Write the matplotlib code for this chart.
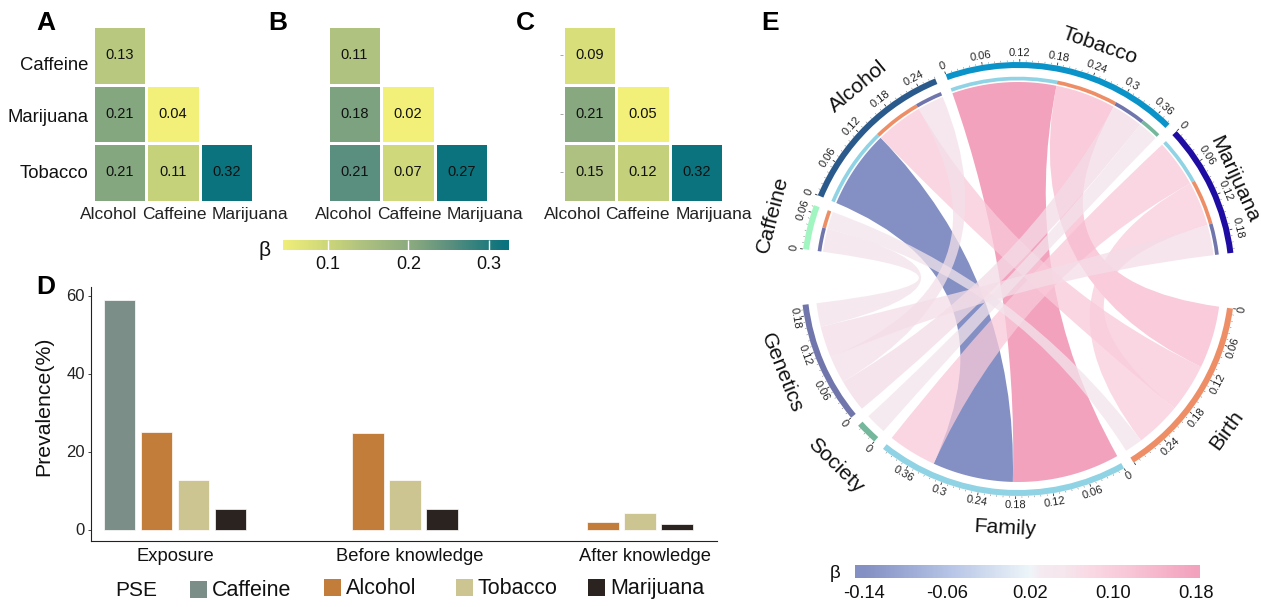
import numpy as np
import matplotlib
matplotlib.use("Agg")
import matplotlib.pyplot as plt
from matplotlib.colors import LinearSegmentedColormap, Normalize
from matplotlib.patches import Wedge, PathPatch, Rectangle
from matplotlib.path import Path
from matplotlib.transforms import ScaledTranslation

plt.rcParams['font.family'] = ['Liberation Sans', 'DejaVu Sans']

W, H = 1261, 607

# heatmaps A, B, C
heat_cols = ["Alcohol", "Caffeine", "Marijuana"]
heat_rows = ["Caffeine", "Marijuana", "Tobacco"]
heat_a = [[0.13, np.nan, np.nan], [0.21, 0.04, np.nan], [0.21, 0.11, 0.32]]
heat_b = [[0.11, np.nan, np.nan], [0.18, 0.02, np.nan], [0.21, 0.07, 0.27]]
heat_c = [[0.09, np.nan, np.nan], [0.21, 0.05, np.nan], [0.15, 0.12, 0.32]]

# bars D
stages = ["Exposure", "Before knowledge", "After knowledge"]
pse = ["Caffeine", "Alcohol", "Tobacco", "Marijuana"]
exposure_vals = [59, 25.0, 12.8, 5.4]
before_vals = [24.8, 12.8, 5.4]
after_vals = [2.1, 4.3, 1.5]
pse_colors = ["#7B8F88", "#C37D3A", "#CCC591", "#2B2320"]

# chord E, sectors in clockwise order
sectors = ["Alcohol", "Tobacco", "Marijuana", "Birth", "Family", "Society", "Genetics", "Caffeine"]
sector_gaps = [3.0, 2.7, 14.8, 2.9, 3.0, 2.8, 14.8, 2.8]
sector_colors = ["#2A5A8C", "#0A93C9", "#1F0DA3", "#EE8E66", "#8FD3E4", "#74B79C", "#7076AC", "#A0F5C0"]
link_source = ["Alcohol", "Tobacco", "Marijuana", "Alcohol", "Tobacco", "Marijuana",
               "Caffeine", "Alcohol", "Tobacco", "Marijuana", "Caffeine", "Tobacco"]
link_target = ["Family", "Family", "Family", "Birth", "Birth", "Birth",
               "Birth", "Genetics", "Genetics", "Genetics", "Genetics", "Society"]
link_beta = [-0.139, 0.185, 0.084, 0.084, 0.107, 0.079,
             0.031, 0.047, 0.056, 0.054, 0.041, 0.036]
source_order = {"Alcohol": ["Family", "Birth", "Genetics"],
                "Tobacco": ["Family", "Birth", "Genetics", "Society"],
                "Marijuana": ["Family", "Birth", "Genetics"],
                "Caffeine": ["Genetics", "Birth"]}
target_order = {"Family": ["Tobacco", "Alcohol", "Marijuana"],
                "Birth": ["Tobacco", "Alcohol", "Marijuana", "Caffeine"],
                "Society": ["Tobacco"],
                "Genetics": ["Tobacco", "Alcohol", "Marijuana", "Caffeine"]}
# where the sector names sit: angle, radius
name_pos = {"Alcohol": (129.8, 250), "Tobacco": (70.8, 247), "Marijuana": (24.7, 238), "Birth": (-35.9, 257),
            "Family": (-93, 249), "Society": (-134.5, 261), "Genetics": (-158.3, 254), "Caffeine": (165.4, 254)}


def px_axes(x0, y0, x1, y1, **kw):
    return fig.add_axes([x0 / W, 1 - y1 / H, (x1 - x0) / W, (y1 - y0) / H], **kw)


fig = plt.figure(figsize=(W / 100, H / 100), dpi=100, facecolor="white")

# ---- heatmaps
heat_cmap = LinearSegmentedColormap.from_list("heat", [
    (0, "#F2F079"), (0.25, "#C6D27A"), (0.36, "#B0C280"), (0.6, "#87A87F"), (0.76, "#5A8F7F"), (1, "#0A737D")])


def draw_heat(left, vals, xpos, show_rows, tiny_ticks=False):
    ax = px_axes(left, 26, left + 160.5, 201.7)
    arr = np.ma.masked_invalid(np.array(vals))
    edges_x = np.arange(4) - 0.5
    edges_y = np.arange(4) - 0.5
    ax.pcolormesh(edges_x, edges_y, arr, cmap=heat_cmap, norm=Normalize(np.nanmin(vals), np.nanmax(vals)),
                  edgecolors="white", linewidth=2)
    ax.set_xlim(-0.5, 2.5)
    ax.set_ylim(2.5, -0.5)
    for i in range(3):
        for j in range(3):
            if not np.isnan(vals[i][j]):
                ax.text(j, i, "%.2f" % vals[i][j], ha="center", va="center", fontsize=10.5, color="#111111")
    for s in ax.spines.values():
        s.set_visible(False)
    ax.set_xticks(xpos)
    ax.set_xticklabels(heat_cols, fontsize=12.5, color="#222222")
    ax.tick_params(axis="x", length=0, pad=4)
    if show_rows:
        ax.set_yticks([0.14, 1.03, 1.98])
        ax.set_yticklabels(heat_rows, fontsize=13.3, color="#111111")
        ax.tick_params(axis="y", length=0, pad=3)
    elif tiny_ticks:
        ax.set_yticks([0, 1, 2])
        ax.set_yticklabels([])
        ax.tick_params(axis="y", length=2, width=0.6, color="#999999", pad=0)
    else:
        ax.set_yticks([])
    return ax


draw_heat(92.75, heat_a, [-0.2, 1.03, 2.44], True)
draw_heat(327.75, heat_b, [-0.2, 1.03, 2.44], False)
draw_heat(562.75, heat_c, [-0.32, 0.9, 2.32], False, tiny_ticks=True)

# colourbar for the heatmaps
cax = px_axes(283, 240, 509, 250)
cax.imshow(np.linspace(0.0444, 0.3247, 256)[None, :], aspect="auto", cmap=heat_cmap,
           norm=Normalize(0.04, 0.32), extent=[0.0444, 0.3247, 0, 1])
cax.set_yticks([])
cax.set_xticks([0.1, 0.2, 0.3])
cax.set_xticklabels(["0.1", "0.2", "0.3"], fontsize=13, color="#111111")
cax.tick_params(axis="x", direction="in", length=7, width=1, color="white", pad=4)
for s in cax.spines.values():
    s.set_visible(False)

# ---- bars
ax = px_axes(90.6, 287, 717, 541)
pitch, bar_w = 0.159, 0.137
for k, (name, col) in enumerate(zip(pse, pse_colors)):
    ax.bar(0 + (k - 1.5) * pitch, exposure_vals[k], bar_w, color=col, edgecolor="white", linewidth=0.5)
for g, vals in [(0.99, before_vals), (2, after_vals)]:
    for k, v in enumerate(vals):
        ax.bar(g + (k - 1) * pitch, v, bar_w, color=pse_colors[k + 1], edgecolor="white", linewidth=0.5)
ax.bar(2 - 1.5 * pitch - 0.012, 2.0, 0.004, color="#C8D4D0")
ax.set_xlim(-0.363, 2.33)
ax.set_ylim(-2.82, 62.3)
ax.spines["top"].set_visible(False)
ax.spines["right"].set_visible(False)
ax.spines["left"].set_color("#222222")
ax.spines["bottom"].set_color("#222222")
ax.set_yticks([0, 20, 40, 60])
ax.tick_params(axis="y", labelsize=12, length=2, width=0.6, pad=2, colors="#222222")
for lab in ax.get_yticklabels():
    lab.set_transform(lab.get_transform() + ScaledTranslation(0, 1 / 100, fig.dpi_scale_trans))
ax.set_xticks([0, 1.01, 2.02])
ax.set_xticklabels(stages, fontsize=13.2, color="#111111")
ax.tick_params(axis="x", length=0, pad=5)
ax.set_ylabel("Prevalence(%)", fontsize=15.3, color="#111111")
ax.yaxis.set_label_coords(-0.06, 0.531)

# ---- chord
ax = px_axes(740, 0, 1261, 545)
ax.set_xlim(-278, 243)
ax.set_ylim(-266, 279)
ax.axis("off")

chord_cmap = LinearSegmentedColormap.from_list("chord", [
    (0, "#5B6BB0"), (0.25, "#9CAFDE"), (0.5, "#E8F3F8"), (0.53, "#F2E4EC"), (0.6, "#F3DFE8"),
    (0.69, "#F9CBDB"), (0.77, "#F7BBCF"), (1, "#F083A8")])
chord_norm = Normalize(-0.14, 0.18)
chord_alpha = 0.75

totals = {}
for s in sectors:
    totals[s] = sum(abs(b) for a, t, b in zip(link_source, link_target, link_beta) if s in (a, t))
scale = (360 - sum(sector_gaps)) / sum(totals.values())
starts = {}
angle = 157.3
for s, gap in zip(sectors, sector_gaps):
    starts[s] = angle
    angle -= totals[s] * scale + gap

beta_of = {(a, t): b for a, t, b in zip(link_source, link_target, link_beta)}


def polar(a, r):
    return r * np.cos(np.radians(a)), r * np.sin(np.radians(a))


# link ends, and the thin inner band on the PSE sectors
ends = {}
for s in source_order:
    v = 0
    for t in source_order[s]:
        w = abs(beta_of[(s, t)])
        a1, a2 = starts[s] - v * scale, starts[s] - (v + w) * scale
        ends[(s, t, "s")] = (a1, a2)
        ax.add_patch(Wedge((0, 0), 202.3, a2, a1, width=3.7, color=sector_colors[sectors.index(t)], lw=0))
        v += w
for t in target_order:
    v = 0
    for s in target_order[t]:
        w = abs(beta_of[(s, t)])
        ends[(s, t, "t")] = (starts[t] - v * scale, starts[t] - (v + w) * scale)
        v += w


def arc_pts(a1, a2, r):
    return [polar(a, r) for a in np.linspace(a1, a2, 30)]


for s, t, b in zip(link_source, link_target, link_beta):
    a1, a2 = ends[(s, t, "s")]
    b1, b2 = ends[(s, t, "t")]
    src = arc_pts(a1, a2, 197)
    tgt = arc_pts(b1, b2, 203)
    verts = src + [(0, 0), tgt[0]] + tgt[1:] + [(0, 0), src[0]]
    codes = [Path.MOVETO] + [Path.LINETO] * (len(src) - 1) + [Path.CURVE3, Path.CURVE3] + \
        [Path.LINETO] * (len(tgt) - 1) + [Path.CURVE3, Path.CURVE3]
    rgba = chord_cmap(chord_norm(b), alpha=chord_alpha)
    ax.add_patch(PathPatch(Path(verts, codes), facecolor=rgba, edgecolor="none", lw=0))

# outer bands, ticks and names
for s, col in zip(sectors, sector_colors):
    a1 = starts[s]
    a2 = a1 - totals[s] * scale
    ax.add_patch(Wedge((0, 0), 217, a2, a1, width=6, color=col, lw=0))
    for i in range(int(totals[s] * 100 + 1e-6) + 1):
        a = a1 - i * 0.01 * scale
        major = i % 6 == 0
        r2 = 220 if major else 218.8
        x1, y1 = polar(a, 217.3)
        x2, y2 = polar(a, r2)
        ax.plot([x1, x2], [y1, y2], color="#333333", lw=0.6 if major else 0.25, solid_capstyle="butt")
        if major and i * 0.01 < totals[s] - 0.005:
            rot = a - 90 if 0 < ((a + 360) % 360) < 180 else a + 90
            xt, yt = polar(a, 226)
            ax.text(xt, yt, "%g" % (i * 0.01), fontsize=8, color="#222222", rotation=rot,
                    rotation_mode="anchor", ha="center", va="center")
    na, nr = name_pos[s]
    rot = na - 90 if 0 < ((na + 360) % 360) < 180 else na + 90
    xt, yt = polar(na, nr)
    ax.text(xt, yt, s, fontsize=15.3, color="#111111", rotation=rot, rotation_mode="anchor",
            ha="center", va="center", clip_on=False)

# colourbar for the chord
bax = px_axes(855, 565, 1200, 578)
bax.imshow(np.linspace(-0.1487, 0.1838, 256)[None, :], aspect="auto", cmap=chord_cmap, norm=chord_norm,
           alpha=chord_alpha, extent=[-0.1487, 0.1838, 0, 1])
bax.set_yticks([])
bax.set_xticks([-0.14, -0.06, 0.02, 0.10, 0.18])
bax.set_xticklabels(["-0.14", "-0.06", "0.02", "0.10", "0.18"], fontsize=13.2, color="#111111")
bax.tick_params(axis="x", length=0, pad=5)
for s in bax.spines.values():
    s.set_visible(False)

# ---- letters, legend, betas on a pixel overlay
top = fig.add_axes([0, 0, 1, 1], facecolor="none")
top.set_xlim(0, W)
top.set_ylim(H, 0)
top.axis("off")
for letter, x, y in [("A", 46, 23), ("B", 278, 23), ("C", 525, 23), ("D", 46, 287), ("E", 770, 23)]:
    top.text(x, y, letter, fontsize=19, fontweight="bold", ha="center", va="center", color="black")
top.text(265, 250, "β", fontsize=15, ha="center", va="center", color="#111111")
top.text(835, 574, "β", fontsize=13.5, ha="center", va="center", color="#111111")
top.text(115, 590, "PSE", fontsize=15, ha="left", va="center", color="#111111")
legend_x = [190, 324, 456, 588]
legend_y = [581, 579, 579, 579]
for name, col, x, y in zip(pse, pse_colors, legend_x, legend_y):
    top.add_patch(Rectangle((x, y), 17, 17, color=col, lw=0))
    top.text(x + 22, y + 9.5, name, fontsize=15.5, ha="left", va="center", color="#111111")

fig.savefig("out.png", dpi=100)
